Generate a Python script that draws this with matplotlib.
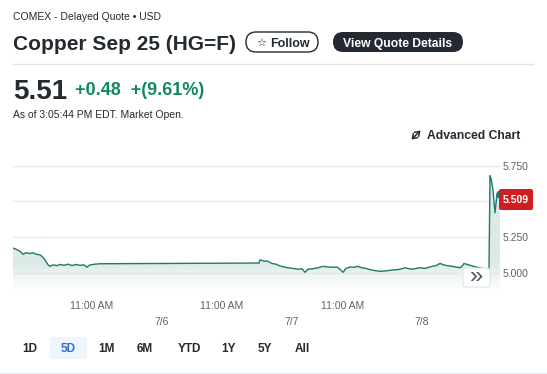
import numpy as np
import matplotlib
matplotlib.use("Agg")
import matplotlib.pyplot as plt
from matplotlib.patches import FancyBboxPatch
from matplotlib.colors import to_rgb

plt.rcParams['font.family'] = ['Liberation Sans', 'DejaVu Sans']

# chart time index (compressed 5D session axis) and copper price
t = [0, 3, 7, 10, 13, 17, 20, 23, 27, 29, 32, 35, 37, 40, 44, 47, 51, 55, 59, 63,
     67, 71, 74, 77, 82, 87, 246, 247, 251, 255, 259, 263, 267, 271, 275, 280, 285,
     289, 292, 295, 300, 305, 310, 315, 320, 324, 327, 330, 333, 337, 341, 344, 349,
     353, 357, 362, 367, 373, 380, 385, 389, 392, 395, 399, 403, 407, 412, 419, 423,
     427, 431, 434, 439, 443, 447, 449, 451, 463, 476, 477, 478, 480, 482, 484, 486, 487]
price = [5.173, 5.165, 5.15, 5.13, 5.14, 5.135, 5.14, 5.13, 5.125, 5.115, 5.09, 5.056,
         5.045, 5.055, 5.05, 5.058, 5.052, 5.06, 5.05, 5.058, 5.052, 5.055, 5.04, 5.055,
         5.06, 5.063, 5.068, 5.09, 5.082, 5.08, 5.065, 5.06, 5.048, 5.04, 5.035, 5.03,
         5.025, 5.028, 5.003, 5.025, 5.028, 5.035, 5.045, 5.04, 5.038, 5.04, 5.025, 5.003,
         5.03, 5.04, 5.038, 5.045, 5.035, 5.03, 5.022, 5.015, 5.01, 5.013, 5.02, 5.022,
         5.028, 5.035, 5.03, 5.025, 5.03, 5.035, 5.03, 5.045, 5.05, 5.065, 5.055, 5.05,
         5.045, 5.04, 5.035, 5.045, 5.065, 5.04, 5.02, 5.68, 5.66, 5.58, 5.42, 5.55,
         5.54, 5.55]

time_ticks = [79, 209, 330]
time_labels = ['11:00 AM', '11:00 AM', '11:00 AM']
date_ticks = [149, 279, 409]
date_labels = ['7/6', '7/7', '7/8']
price_ticks = [5.0, 5.25, 5.5, 5.75]
last_label = '5.509'
ranges = ['1D', '5D', '1M', '6M', 'YTD', '1Y', '5Y', 'All']

dark = '#232a31'
grey = '#5b636a'
teal = '#1f7a6a'
green = '#0e8a63'

W, H = 547, 374
fig = plt.figure(figsize=(W / 100, H / 100), dpi=100)

# price chart
ylo, yhi = 4.858, 5.825
ax = fig.add_axes([13 / W, (H - 293) / H, 487 / W, 138 / H])
ax.plot(t, price, color=teal, lw=1.0, zorder=3)
ax.plot(t[-1], price[-1], 'o', ms=5, color=teal, clip_on=False, zorder=4)

poly = ax.fill_between(t, price, ylo, color='none', lw=0)
yy = np.linspace(ylo, yhi, 256)
alpha = 0.16 * np.clip((yy - ylo) / (5.07 - ylo), 0, 1) ** 1.2
rgba = np.zeros((256, 1, 4))
rgba[..., :3] = to_rgb(teal)
rgba[:, 0, 3] = alpha
img = ax.imshow(rgba, extent=[0, 487, ylo, yhi], origin='lower', aspect='auto',
                interpolation='bilinear', zorder=1)
img.set_clip_path(poly.get_paths()[0], transform=ax.transData)

ax.set_xlim(0, 487)
ax.set_ylim(ylo, yhi)
for s in ax.spines.values():
    s.set_visible(False)
ax.set_facecolor('none')

# the 5.500 label sits under the last-price tag, so only its gridline shows
ax.set_yticks(price_ticks)
ax.set_yticklabels(['' if v == 5.5 else f'{v:.3f}' for v in price_ticks])
ax.yaxis.tick_right()
ax.grid(axis='y', color='#e3e6ea', lw=0.9)
ax.set_xticks(time_ticks)
ax.set_xticklabels(time_labels)
ax.set_xticks(date_ticks, minor=True)
ax.set_xticklabels(date_labels, minor=True)
ax.tick_params(axis='y', length=0, pad=1.5, labelsize=7.5, labelcolor=grey)
ax.tick_params(axis='x', which='major', length=0, pad=6, labelsize=7.5, labelcolor=grey)
ax.tick_params(axis='x', which='minor', length=0, pad=17, labelsize=7.5, labelcolor=grey)

# page overlay in pixel coordinates
ov = fig.add_axes([0, 0, 1, 1], facecolor='none')
ov.set_xlim(0, W)
ov.set_ylim(H, 0)
ov.axis('off')

ov.text(13, 20, 'COMEX - Delayed Quote \u2022 USD', fontsize=7.5, color=dark)
ov.text(13, 49.5, 'Copper Sep 25 (HG=F)', fontsize=15, fontweight='bold', color=dark)

ov.add_patch(FancyBboxPatch((246, 32), 72, 20, boxstyle='round,pad=0,rounding_size=10',
                            fc='white', ec=dark, lw=1))
ov.text(261, 46, '\u2606', fontsize=8, color=dark, ha='center', family=['DejaVu Sans'])
ov.text(270, 46.5, 'Follow', fontsize=9, fontweight='bold', color=dark)
ov.add_patch(FancyBboxPatch((333, 32), 130, 20, boxstyle='round,pad=0,rounding_size=10',
                            fc=dark, ec='none'))
ov.text(398, 46.5, 'View Quote Details', fontsize=8.7, fontweight='bold', color='white',
        ha='center')
ov.plot([13, 533], [63.5, 63.5], color='#e0e4e9', lw=1)

ov.text(13, 99, '5.51', fontsize=20, fontweight='bold', color=dark)
ov.text(75, 95, '+0.48  +(9.61%)', fontsize=13, fontweight='bold', color=green)
ov.text(13, 118, 'As of 3:05:44 PM EDT. Market Open.', fontsize=7.5, color=dark)

# expand icon (no installed font has the NE-SW arrow glyph)
ov.annotate('', xy=(420.5, 130.5), xytext=(411.5, 139.5),
            arrowprops=dict(arrowstyle='<->,head_length=0.5,head_width=0.35',
                            mutation_scale=6, color=dark, lw=1.1,
                            shrinkA=0, shrinkB=0))
ov.text(427, 139.3, 'Advanced Chart', fontsize=8.7, fontweight='bold', color=dark)

# chart overlays: scroll button and last price tag
ov.add_patch(FancyBboxPatch((463, 268), 27, 19, boxstyle='round,pad=0,rounding_size=3',
                            fc='white', ec='#dfe3e8', lw=0.8))
ov.text(476.5, 277, '\u00bb', fontsize=17, color='#4a5560', ha='center', va='center')
ov.add_patch(FancyBboxPatch((499, 189), 34, 21, boxstyle='round,pad=0,rounding_size=2',
                            fc='#cf1d23', ec='none'))
ov.text(516, 203, last_label, fontsize=7.5, fontweight='bold', color='white', ha='center')

# range selector
centers = [30, 68, 106, 145, 189, 229, 265, 302]
ov.add_patch(FancyBboxPatch((50, 337), 37, 22, boxstyle='round,pad=0,rounding_size=3',
                            fc='#edf5fd', ec='none'))
for lab, cx in zip(ranges, centers):
    ov.text(cx, 352, lab, fontsize=8.5, fontweight='bold', ha='center',
            color='#2f6fc6' if lab == '5D' else dark)
ov.plot([0, W], [373, 373], color='#eceff1', lw=1)

fig.savefig('out.png', dpi=100)
